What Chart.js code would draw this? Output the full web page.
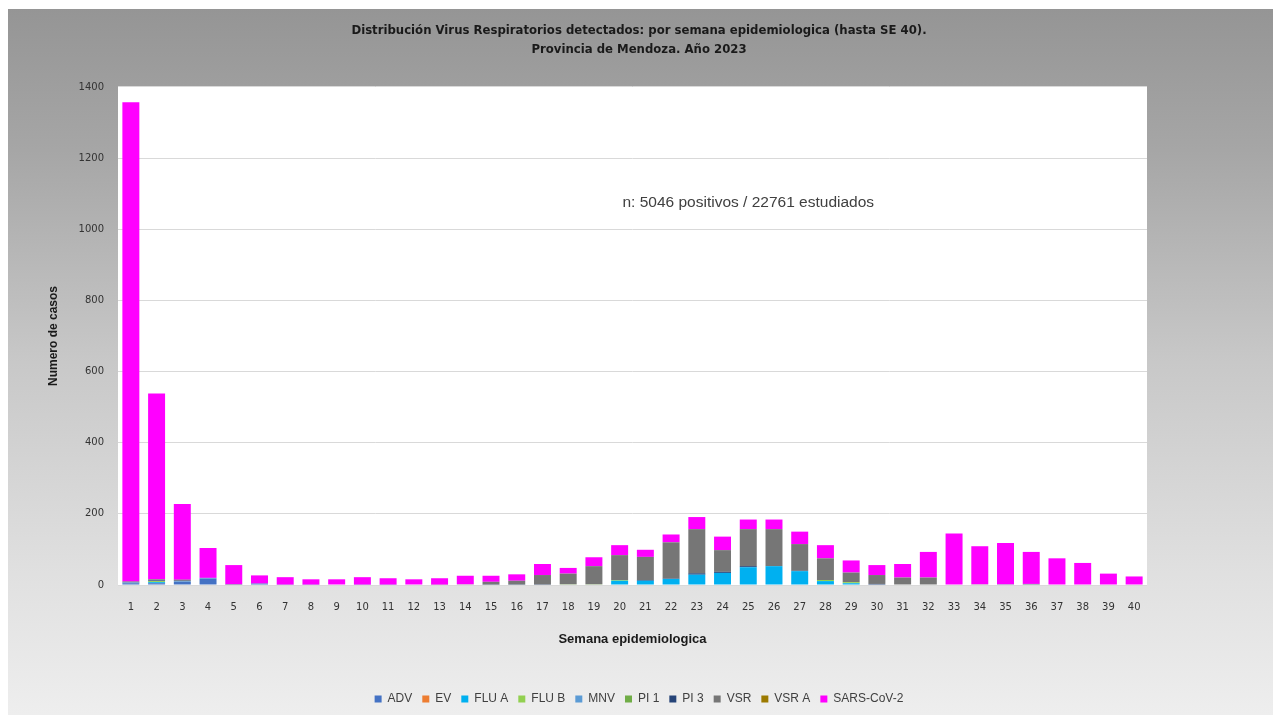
<!DOCTYPE html>
<html>
<head>
<meta charset="utf-8">
<script src="https://cdn.jsdelivr.net/npm/chart.js@4.4.0/dist/chart.umd.min.js"></script>
<style>
  body { margin: 0; background: #fff; }
  #wrap { width: 1278px; height: 715px; position: relative; }
</style>
</head>
<body>
<div id="wrap"><canvas id="grafico"></canvas></div>
<script>
// semanas epidemiologicas 1..40
var semanas = ["1","2","3","4","5","6","7","8","9","10","11","12","13","14","15","16","17","18","19","20",
               "21","22","23","24","25","26","27","28","29","30","31","32","33","34","35","36","37","38","39","40"];

// casos por virus
var adv   = [5,5,9,18,1,4,1,1,0,1, 1,0,0,0,1,1,1,0,0,0, 0,0,0,0,0,0,0,0,0,0, 0,0,0,0,0,0,0,0,0,0];
var ev    = [0,0,0,0,0,0,0,0,0,0, 0,0,0,0,0,0,0,0,0,0, 0,0,0,0,0,0,0,0,0,0, 0,0,0,0,0,0,0,0,0,0];
var fluA  = [0,3,0,0,0,0,0,0,0,0, 0,0,0,0,0,0,0,0,0,12, 12,17,29,34,50,53,39,11,5,0, 0,0,0,0,0,0,0,0,0,0];
var fluB  = [0,3,0,0,0,0,0,0,0,0, 0,0,0,0,0,0,0,0,0,2, 0,0,0,0,0,0,0,3,3,0, 0,0,0,0,0,0,0,0,0,0];
var mnv   = [2,0,2,2,0,0,0,0,0,0, 0,0,0,0,0,0,0,0,0,0, 0,0,0,0,0,0,0,0,0,0, 0,0,0,0,0,0,0,0,0,0];
var pi1   = [0,0,0,0,0,0,0,0,0,0, 0,0,0,0,0,0,0,2,2,0, 0,0,0,0,0,0,0,0,0,0, 0,0,0,0,0,0,0,0,0,0];
var pi3   = [1,2,1,0,0,0,0,0,0,0, 0,0,0,0,0,0,0,0,0,0, 2,1,4,3,3,0,1,0,0,3, 0,0,0,0,2,2,0,0,0,0];
var vsr   = [2,3,3,0,1,0,0,0,0,0, 0,0,1,2,8,11,27,30,51,70, 65,102,124,61,104,104,75,61,27,25, 21,21,0,2,0,1,0,0,0,0];
var vsrA  = [0,0,0,0,0,0,0,0,0,0, 0,0,0,0,0,0,0,0,0,0, 0,0,0,0,0,0,0,0,0,0, 0,0,0,0,0,0,0,0,0,0];
var sars  = [1347,522,213,84,54,23,21,15,16,21, 18,16,18,24,17,18,31,16,25,28,
             20,22,34,38,27,27,35,37,34,28, 38,72,145,107,116,90,75,62,32,24];

var yTicks = [0,200,400,600,800,1000,1200,1400];

var series = [
  ["ADV", adv, "#4472C4"],
  ["EV", ev, "#ED7D31"],
  ["FLU A", fluA, "#00B0F0"],
  ["FLU B", fluB, "#92D050"],
  ["MNV", mnv, "#5B9BD5"],
  ["PI 1", pi1, "#70AD47"],
  ["PI 3", pi3, "#264478"],
  ["VSR", vsr, "#767676"],
  ["VSR A", vsrA, "#9C7A00"],
  ["SARS-CoV-2", sars, "#FF00FF"]
];

var datasets = series.map(function(s){
  return { label: s[0], data: s[1], backgroundColor: s[2], borderWidth: 0,
           barPercentage: 0.66, categoryPercentage: 1 };
});

// fondo degradado y area blanca
var fondo = {
  id: "fondo",
  beforeDraw: function(chart){
    var ctx = chart.ctx, a = chart.chartArea;
    ctx.save();
    ctx.fillStyle = "#fff";
    ctx.fillRect(0, 0, chart.width, chart.height);
    var g = ctx.createLinearGradient(0, 9, 0, 715);
    g.addColorStop(0, "#959595");
    g.addColorStop(0.2, "#a6a6a6");
    g.addColorStop(0.5, "#c8c8c8");
    g.addColorStop(0.8, "#e0e0e0");
    g.addColorStop(1, "#eeeeee");
    ctx.fillStyle = g;
    ctx.fillRect(8, 9, 1265, 706);
    ctx.fillStyle = "#fff";
    ctx.fillRect(a.left, a.top, a.right - a.left, a.bottom - a.top);
    ctx.restore();
  },
  afterDatasetsDraw: function(chart){
    var ctx = chart.ctx;
    var x = chart.scales.x.getPixelForValue(24);
    var y = chart.scales.y.getPixelForValue(1075);
    ctx.save();
    ctx.font = "15.5px 'Liberation Sans', Arial, sans-serif";
    ctx.fillStyle = "#404040";
    ctx.textAlign = "center";
    ctx.textBaseline = "middle";
    ctx.fillText("n: 5046 positivos / 22761 estudiados", x, y);
    ctx.restore();
  }
};

var canvas = document.getElementById("grafico").getContext("2d");
window.grafico = new Chart(canvas, {
  type: "bar",
  data: { labels: semanas, datasets: datasets },
  plugins: [fondo],
  options: {
    responsive: true,
    maintainAspectRatio: false,
    animation: false,
    layout: { padding: 0 },
    plugins: {
      title: {
        display: true,
        text: ["Distribución Virus Respiratorios detectados: por semana epidemiologica (hasta SE 40).",
               "Provincia de Mendoza. Año 2023"],
        color: "#1a1a1a",
        font: { family: "'Liberation Sans Narrow', 'DejaVu Sans Condensed', Arial, sans-serif", size: 13, weight: "bold", lineHeight: 1.46 },
        padding: { top: 21, bottom: 28 }
      },
      legend: {
        position: "bottom",
        labels: {
          boxWidth: 7, boxHeight: 7, padding: 10, color: "#404040",
          font: { family: "'Liberation Sans', Arial, sans-serif", size: 12 }
        }
      },
      tooltip: { enabled: false }
    },
    scales: {
      x: {
        stacked: true,
        grid: { display: false, drawTicks: false },
        border: { display: false },
        ticks: { color: "#333", padding: 16, maxRotation: 0, autoSkip: false,
                 font: { family: "'DejaVu Sans', sans-serif", size: 10 } },
        title: { display: true, text: "Semana epidemiologica", color: "#1a1a1a",
                 font: { family: "'Liberation Sans', Arial, sans-serif", size: 13, weight: "bold" },
                 padding: { top: 0, bottom: 36 } },
        afterFit: function(s){ s.height = 98; }
      },
      y: {
        stacked: true,
        min: 0, max: 1400,
        afterBuildTicks: function(s){ s.ticks = yTicks.map(function(v){ return { value: v }; }); },
        grid: { color: "#d9d9d9", drawTicks: false },
        border: { display: false },
        ticks: { color: "#333", padding: 14,
                 font: { family: "'DejaVu Sans', sans-serif", size: 10 },
                 callback: function(v){ return String(v); } },
        title: { display: true, text: "Numero de casos", color: "#1a1a1a",
                 font: { family: "'Liberation Sans Narrow', Arial, sans-serif", size: 12, weight: "bold" },
                 padding: { top: 46 } },
        afterFit: function(s){ s.width = 118; }
      },
      // margen derecho (espacio gris a la derecha del area de trazado)
      margen: {
        type: "linear",
        position: "right",
        grid: { display: false, drawTicks: false },
        border: { display: false },
        ticks: { display: false },
        afterFit: function(s){ s.width = 131; }
      }
    }
  }
});
</script>
</body>
</html>
